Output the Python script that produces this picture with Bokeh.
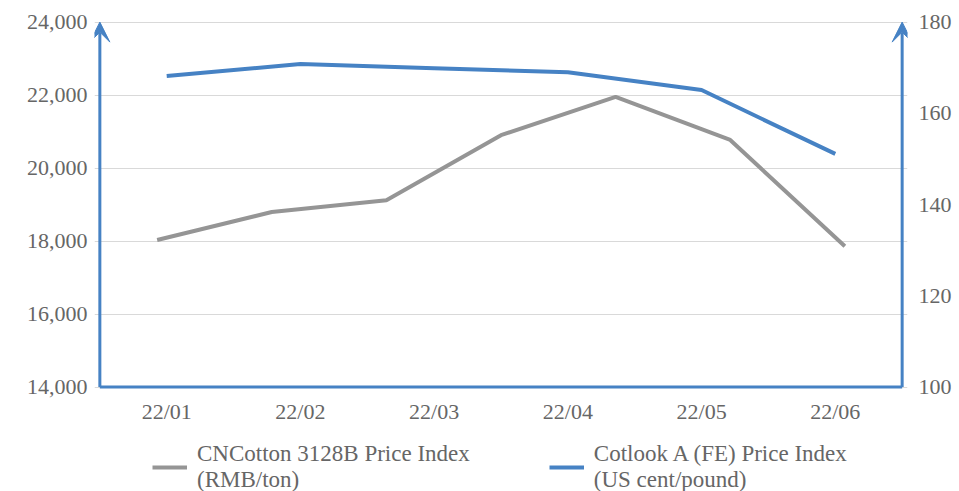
from bokeh.plotting import figure
from bokeh.layouts import column
from bokeh.models import (Range1d, LinearAxis, FixedTicker, NumeralTickFormatter,
                          Arrow, VeeHead, Legend, LegendItem)
from bokeh.embed import file_html
from bokeh.resources import INLINE

# ---- data ----
months = ["22/01", "22/02", "22/03", "22/04", "22/05", "22/06"]
cotlook = [168.2, 170.8, 169.9, 169.0, 165.1, 151.1]          # US cent/pound (right axis)
cncotton = [18030, 18795, 19120, 20900, 21950, 20770, 17860]   # RMB/ton (left axis), 7 samples over same span
left_ticks = [14000, 16000, 18000, 20000, 22000, 24000]
right_ticks = [100, 120, 140, 160, 180]
series_names = ["CNCotton 3128B Price Index\n(RMB/ton)",
                "Cotlook A (FE) Price Index\n(US cent/pound)"]

BLUE = "#4682C4"
GREY = "#959595"
TXT = "#666666"
FONT = "Liberation Serif"

n = len(months)
x_blue = [i + 0.5 for i in range(n)]
m = len(cncotton)
x_grey = [(i + 0.5) * n / m for i in range(m)]

# small padding around the axis box so the arrow axes are not clipped
L0, L1 = left_ticks[0], left_ticks[-1]
R0, R1 = right_ticks[0], right_ticks[-1]
pad_lo, pad_hi = 0.015, 0.04
ylo = L0 - (L1 - L0) * pad_lo
yhi = L1 + (L1 - L0) * pad_hi
rlo = R0 - (R1 - R0) * pad_lo
rhi = R1 + (R1 - R0) * pad_hi
xpad = 0.04

p = figure(width=959, height=431, output_backend="svg", toolbar_location=None,
           x_range=Range1d(-xpad, n + xpad), y_range=Range1d(ylo, yhi),
           min_border_left=94, min_border_right=52, min_border_top=7, min_border_bottom=39)
p.outline_line_color = None
p.background_fill_color = "white"
p.border_fill_color = "white"

p.extra_y_ranges = {"right": Range1d(rlo, rhi)}

# gridlines
p.xgrid.visible = False
p.ygrid.grid_line_color = "#d9d9d9"
p.ygrid.grid_line_width = 1
p.ygrid.ticker = FixedTicker(ticks=left_ticks)

def style_axis(ax, standoff):
    ax.axis_line_color = None
    ax.major_tick_line_color = None
    ax.minor_tick_line_color = None
    ax.major_tick_out = 0
    ax.minor_tick_out = 0
    ax.major_label_standoff = standoff
    ax.major_label_text_font = FONT
    ax.major_label_text_font_size = "22px"
    ax.major_label_text_color = TXT

# left axis
ya = p.yaxis[0]
ya.ticker = FixedTicker(ticks=left_ticks)
ya.formatter = NumeralTickFormatter(format="0,0")
style_axis(ya, 7)

# right axis
ra = LinearAxis(y_range_name="right", ticker=FixedTicker(ticks=right_ticks))
style_axis(ra, 11)
p.add_layout(ra, "right")

# bottom axis
xa = p.xaxis[0]
xa.ticker = FixedTicker(ticks=x_blue)
xa.major_label_overrides = {x: lab for x, lab in zip(x_blue, months)}
style_axis(xa, 6)

# axis box: bottom line and two arrow axes
p.add_layout(Arrow(x_start=0, y_start=L0, x_end=n, y_end=L0,
                   line_color=BLUE, line_width=3, end=None))
for xx in (0, n):
    p.add_layout(Arrow(x_start=xx, y_start=L0, x_end=xx, y_end=L1,
                       line_color=BLUE, line_width=3,
                       end=VeeHead(size=20, line_color=BLUE, fill_color=BLUE, line_width=1)))

p.line(x_grey, cncotton, line_color=GREY, line_width=4)
p.line(x_blue, cotlook, line_color=BLUE, line_width=4, y_range_name="right")

# legend strip below the chart (frame is aligned with the chart's frame)
lf = figure(width=959, height=60, output_backend="svg", toolbar_location=None,
            x_range=Range1d(0, 1), y_range=Range1d(0, 1),
            x_axis_location=None, y_axis_location=None,
            min_border_left=0, min_border_right=0, min_border_top=0, min_border_bottom=0)
lf.outline_line_color = None
lf.xgrid.visible = False
lf.ygrid.visible = False
# proxy renderers (kept outside the visible range) that only feed the legend
lg1 = lf.line([2, 3], [2, 3], line_color=GREY, line_width=4)
lg2 = lf.line([2, 3], [2, 3], line_color=BLUE, line_width=4)

legend = Legend(items=[
    LegendItem(label=series_names[0], renderers=[lg1]),
    LegendItem(label=series_names[1], renderers=[lg2]),
], orientation="horizontal", location=(58, -2))
legend.label_text_font = FONT
legend.label_text_font_size = "23px"
legend.label_text_color = TXT
legend.glyph_width = 35
legend.label_standoff = 10
legend.spacing = 79
legend.border_line_color = None
legend.background_fill_alpha = 0
legend.padding = 0
legend.margin = 0
lf.add_layout(legend, "center")

open("out.html", "w").write(file_html(column(p, lf), INLINE))
